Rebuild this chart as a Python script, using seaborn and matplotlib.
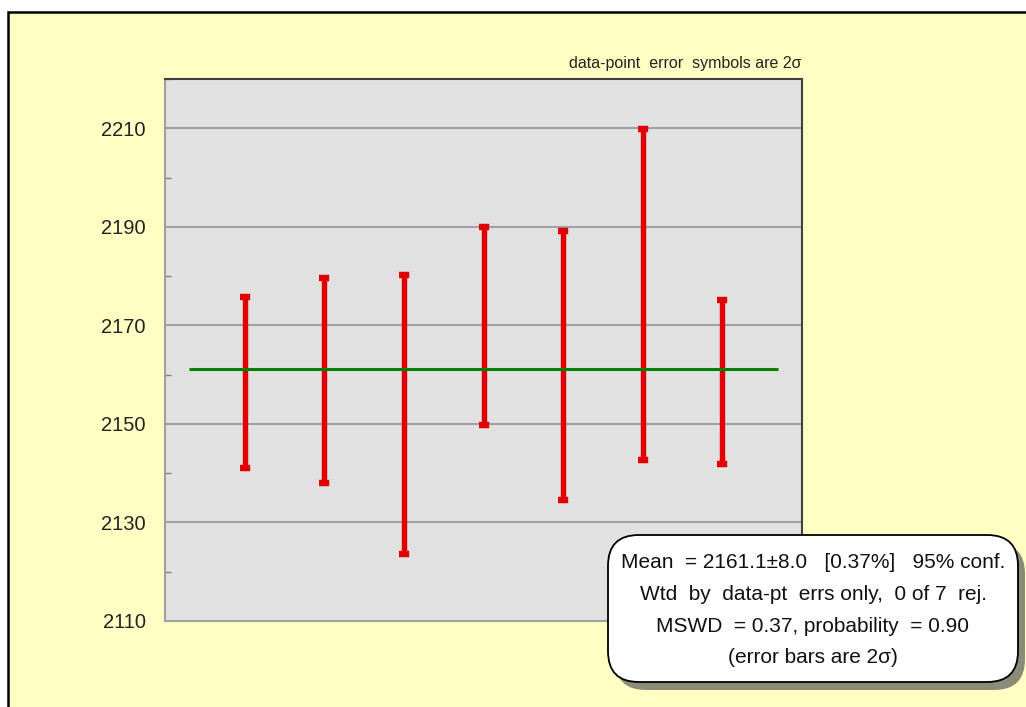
import numpy as np
import pandas as pd
import matplotlib
matplotlib.use("Agg")
import matplotlib.pyplot as plt
from matplotlib.patches import Rectangle, FancyBboxPatch
import seaborn as sns

# ---- data ----
points = [1, 2, 3, 4, 5, 6, 7]
lows = [2141.1, 2138.1, 2123.6, 2149.7, 2134.5, 2142.7, 2141.9]
highs = [2175.8, 2179.6, 2180.3, 2190.0, 2189.2, 2209.9, 2175.2]
mean_value = 2161.1
y_ticks = [2110, 2130, 2150, 2170, 2190, 2210]
y_minor = [2120, 2140, 2160, 2180, 2200, 2220]
note_text = "data-point  error  symbols are 2σ"
box_lines = [
    "Mean  = 2161.1±8.0   [0.37%]   95% conf.",
    "Wtd  by  data-pt  errs only,  0 of 7  rej.",
    "MSWD  = 0.37, probability  = 0.90",
    "(error bars are 2σ)",
]

sns.set_theme(style="white")
plt.rcParams["font.family"] = ["Liberation Sans", "DejaVu Sans"]

W, H = 1026, 707
fig = plt.figure(figsize=(W / 100, H / 100), dpi=100)
fig.patch.set_facecolor("white")

# yellow panel with black border (extends past right/bottom)
panel = Rectangle((8 / W, -0.05), 1.1, 1 - 12 / H + 0.05, transform=fig.transFigure,
                  facecolor="#FFFFC4", edgecolor="black", linewidth=1.8, zorder=-10)
fig.patches.append(panel)

ax = fig.add_axes([165 / W, 1 - 621 / H, (802 - 165) / W, (621 - 79) / H])
ax.set_zorder(1)
ax.set_facecolor("#E1E1E1")

# long-form data for error bars
df = pd.DataFrame({
    "point": points * 2,
    "value": lows + highs,
    "end": ["low"] * len(points) + ["high"] * len(points),
})

red = "#E00000"
sns.lineplot(data=df, x="point", y="value", units="point", estimator=None,
             color=red, linewidth=3.9, ax=ax, zorder=3, legend=False)
cap_marker = [(-1, -0.62), (1, -0.62), (1, 0.62), (-1, 0.62)]
sns.scatterplot(data=df, x="point", y="value", marker=cap_marker, s=42,
                color=red, edgecolor=red, linewidth=0.3, ax=ax, zorder=4, legend=False)

ax.hlines(mean_value, 0.3, 7.7, color="#008000", linewidth=2.2, zorder=5)

ax.set_xlim(0, 8)
ax.set_ylim(2110, 2220)
ax.set_xticks([])
ax.set_yticks(y_ticks)
ax.set_yticklabels([str(t) for t in y_ticks])
ax.set_yticks(y_minor, minor=True)
ax.tick_params(axis="y", which="major", length=0, pad=14, labelsize=14.5, labelcolor="#222222")
ax.tick_params(axis="y", which="minor", direction="in", length=4, width=1, color="#808080", left=True)
ax.set_xlabel("")
ax.set_ylabel("")
for t in y_ticks[1:]:
    ax.axhline(t, color="#A0A0A0", linewidth=1.5, zorder=1)

ax.spines["left"].set_color("#A0A0A0")
ax.spines["bottom"].set_color("#A0A0A0")
ax.spines["top"].set_color("#404040")
ax.spines["right"].set_color("#404040")
for s in ax.spines.values():
    s.set_linewidth(1.5)
    s.set_visible(True)

fig.text(801 / W, 1 - 68 / H, note_text, ha="right", va="baseline",
         fontsize=11.5, color="#222222")

# results box with shadow
bx0, by0, bx1, by1 = 608, 535, 1018, 682
shadow = FancyBboxPatch(((bx0 + 7) / W, 1 - (by1 + 8) / H), (bx1 - bx0) / W, (by1 - by0) / H,
                        boxstyle="round,pad=0,rounding_size=0.03", transform=fig.transFigure,
                        facecolor="#5A5A5A", edgecolor="none", alpha=0.7, zorder=6,
                        mutation_aspect=W / H)
fig.patches.append(shadow)
box = FancyBboxPatch((bx0 / W, 1 - by1 / H), (bx1 - bx0) / W, (by1 - by0) / H,
                     boxstyle="round,pad=0,rounding_size=0.03", transform=fig.transFigure,
                     facecolor="white", edgecolor="black", linewidth=1.3, zorder=7,
                     mutation_aspect=W / H)
fig.patches.append(box)
cx = (bx0 + bx1) / 2 / W
for i, line in enumerate(box_lines):
    fig.text(cx, 1 - (563 + i * 31.5) / H, line, ha="center", va="center",
             fontsize=15, color="#111111", zorder=8)

fig.savefig("out.png", dpi=100)
